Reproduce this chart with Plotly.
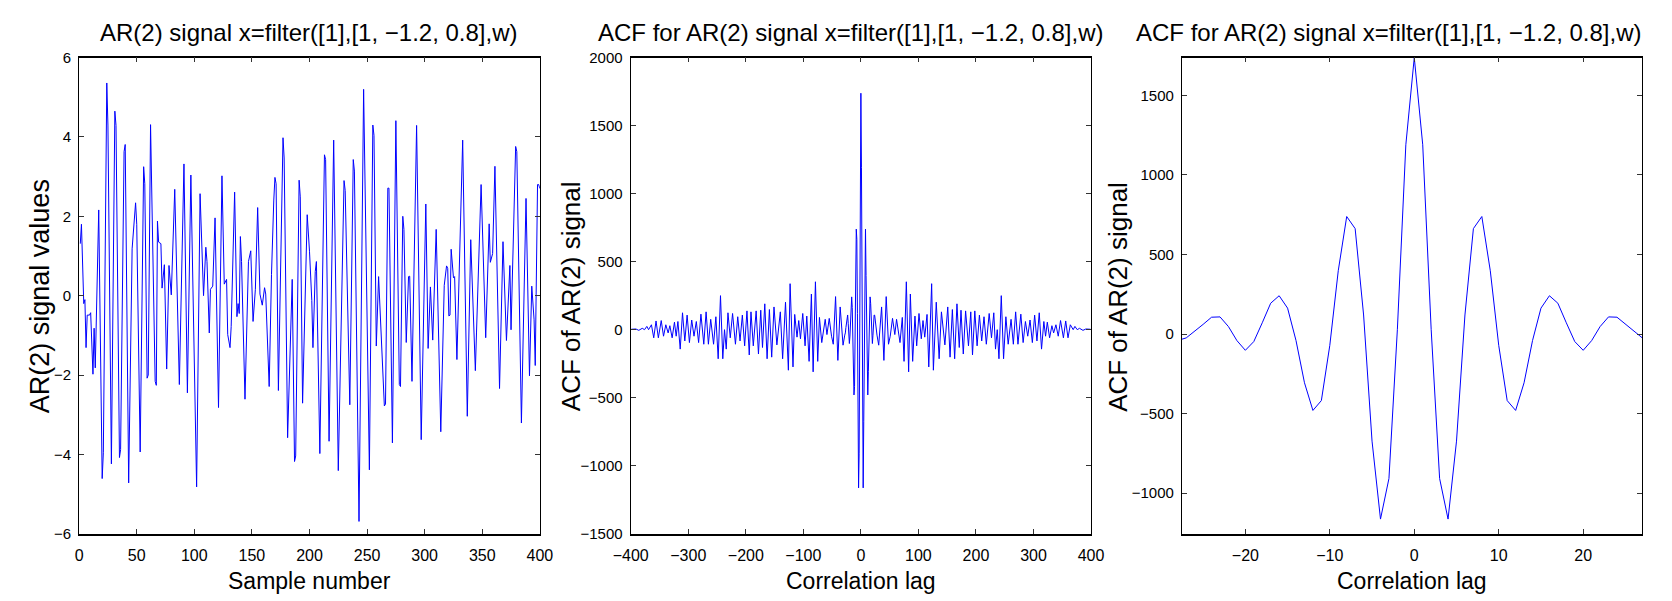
import plotly.graph_objects as go

# ---------------- data ----------------
# AR(2) signal: sample index and value at the resolved vertices
sample_n = [1, 2, 4, 5, 6, 7, 9, 10, 12, 13, 14, 17, 20, 21, 24, 25, 28, 31, 32, 35,
            36, 39, 40, 43, 46, 49, 50, 53, 56, 57, 59, 60, 62, 66, 67, 68, 69, 71, 72, 74,
            76, 78, 80, 83, 87, 91, 94, 97, 102, 105, 108, 110, 111, 113, 114, 116, 118, 121, 124, 126,
            128, 129, 131, 132, 135, 137, 138, 139, 140, 141, 144, 147, 149, 151, 153, 155, 157, 159, 161, 162,
            165, 167, 169, 170, 171, 173, 177, 178, 181, 185, 187, 188, 191, 192, 194, 198, 200, 202, 203, 205,
            206, 209, 213, 214, 217, 221, 225, 230, 231, 235, 238, 239, 243, 247, 252, 255, 256, 258, 260, 262,
            265, 266, 268, 269, 272, 275, 278, 279, 281, 282, 284, 286, 287, 289, 293, 297, 301, 303, 305, 307,
            310, 314, 317, 319, 320, 321, 322, 323, 325, 326, 328, 333, 337, 340, 344, 345, 349, 353, 356, 357,
            359, 361, 365, 368, 371, 374, 375, 379, 380, 384, 388, 391, 393, 395, 396, 398, 399, 400]
signal = [1.31, 1.80, -0.20, -0.10, -1.31, -0.49, -0.49, -0.43, -1.98, -0.82, -1.82, 2.16, -4.61, -3.96, 5.36, 4.30, -4.24, 4.65, 4.29, -4.08,
          -3.88, 3.63, 3.81, -4.72, 1.18, 2.34, 1.80, -3.94, 3.25, 2.82, -2.08, -2.00, 4.31, -2.16, -2.26, 1.88, 1.35, 1.31, 0.19, 0.78,
          -1.85, 0.76, 0.02, 2.68, -2.24, 3.32, -2.45, 3.04, -4.82, 2.57, 0.00, 1.22, 0.86, -0.94, 0.16, 0.24, 1.96, -2.82, 3.02, 0.29,
          0.41, -0.98, -1.31, -0.78, 2.61, -0.53, -0.20, -0.45, 1.49, 0.86, -2.61, 0.86, 1.13, -0.65, 0.16, 2.22, 0.04, -0.24, 0.20, 0.04,
          -2.29, 0.53, 2.41, 2.98, 2.82, -2.39, 3.98, 3.47, -3.58, 0.41, -4.18, -4.04, 2.91, 2.49, -2.71, 2.04, 1.12, -0.12, -1.31, 0.61,
          0.86, -3.98, 3.55, 3.43, -3.67, 3.92, -4.41, 2.90, 2.65, -2.75, 3.43, 3.14, -5.69, 5.20, -4.39, 4.30, 4.04, -1.27, 0.48, -0.94,
          -2.78, -2.73, 2.71, 2.71, -3.71, 4.41, -2.24, -2.29, 2.00, 1.67, -1.18, 0.48, 0.49, -2.16, 4.29, -3.63, 2.31, -1.33, 0.22, -1.12,
          1.67, -3.43, 0.26, 0.75, 0.69, -0.51, -0.49, 1.17, 0.45, 0.48, -1.61, 3.92, -3.04, 1.41, -1.89, -0.94, 2.80, -1.06, 1.81, 0.84,
          1.06, 3.26, -2.34, 1.36, -1.13, 0.76, -0.86, 3.76, 3.63, -3.21, 2.45, -2.02, 0.24, -0.61, -1.76, 2.80, 2.80, 2.70]

# ACF for non-negative lags (the ACF is symmetric about lag 0)
acf_lag_pos = [0, 1, 2, 3, 4, 5, 6, 7, 8, 9, 10, 11, 12, 13, 14, 15, 16, 17, 18, 19,
               20, 21, 22, 23, 24, 25, 26, 27, 28, 31, 36, 40, 44, 48, 51, 55, 59, 62, 68, 72,
               75, 79, 83, 86, 90, 94, 97, 101, 105, 108, 111, 115, 118, 123, 126, 131, 136, 140, 146, 151,
               155, 159, 163, 167, 171, 174, 178, 182, 187, 191, 194, 198, 202, 206, 210, 214, 218, 223, 227, 231,
               234, 237, 240, 244, 248, 252, 256, 261, 265, 269, 273, 278, 282, 286, 290, 294, 298, 302, 306, 310,
               314, 318, 321, 324, 328, 332, 335, 339, 343, 347, 352, 356, 360, 364, 369, 372, 376, 380, 386, 391, 399]
acf_pos = [1738, 1190, 30, -908, -1163, -673, 120, 663, 739, 398, -71, -418, -480, -306, -41, 163, 241, 194, 71, -47,
           -102, -41, 47, 108, 106, 61, 16, -24, -40, -114, 167, -226, 243, -107, -48, 83, -36, 76, -95, 90,
           -233, 352, -310, 262, -233, 100, -119, 119, -67, 67, -55, 112, -274, 338, -298, 202, -214, 131, -112, 167,
           -202, 148, -214, 190, -131, 143, -179, 138, -119, 131, -186, 138, -119, 107, -83, 95, -107, 119, -60, 124,
           -143, 0, -214, 250, -214, 95, -107, 76, -107, 131, -107, 114, -95, 60, -48, 71, -95, 107, -83, 124,
           -143, 60, -48, 55, -60, 29, -24, 36, -48, 67, -60, 64, -60, 36, 0, 24, 0, 10, -5, 5, 3]

title_left = "AR(2) signal x=filter([1],[1, \u22121.2, 0.8],w)"
title_acf = "ACF for AR(2) signal x=filter([1],[1, \u22121.2, 0.8],w)"
xlabel_left = "Sample number"
xlabel_acf = "Correlation lag"
ylabel_left = "AR(2) signal values"
ylabel_acf = "ACF of AR(2) signal"

# full two-sided ACF
acf_lag = [-l for l in reversed(acf_lag_pos[1:])] + acf_lag_pos
acf = list(reversed(acf_pos[1:])) + acf_pos

# ---------------- layout helpers ----------------
W, H = 1672, 601
FONT = "Liberation Sans, Arial, Helvetica, sans-serif"
BLUE = "#0000ff"


def fx(x):
    return x / W


def fy(y):
    return 1 - y / H


ydom = [fy(540), fy(50)]
doms = [[fx(62.3), fx(531.7)], [fx(624.3), fx(1093.3)], [fx(1186), fx(1655)]]

fig = go.Figure()
line = dict(color=BLUE, width=1)
fig.add_trace(go.Scatter(x=sample_n, y=signal, mode="lines", line=line, xaxis="x", yaxis="y"))
fig.add_trace(go.Scatter(x=acf_lag, y=acf, mode="lines", line=line, xaxis="x2", yaxis="y2"))
fig.add_trace(go.Scatter(x=acf_lag, y=acf, mode="lines", line=line, xaxis="x3", yaxis="y3"))


def xax(dom, rng, anchor, **kw):
    d = dict(domain=dom, range=rng, anchor=anchor, showgrid=False, zeroline=False,
             showline=True, linecolor="black", linewidth=1.6, mirror="ticks",
             ticks="inside", ticklen=5, tickwidth=1, tickcolor="#333333",
             tickfont=dict(family=FONT, size=16, color="black"), ticklabelstandoff=6)
    d.update(kw)
    return d


def yax(rng, anchor, **kw):
    d = dict(domain=ydom, range=rng, anchor=anchor, showgrid=False, zeroline=False,
             showline=True, linecolor="black", linewidth=1.2, mirror="ticks",
             ticks="inside", ticklen=5, tickwidth=1, tickcolor="#333333",
             tickfont=dict(family=FONT, size=15, color="black"), ticklabelstandoff=4)
    d.update(kw)
    return d


fig.update_layout(
    width=W, height=H, autosize=False,
    margin=dict(l=0, r=0, t=0, b=0),
    paper_bgcolor="white", plot_bgcolor="white",
    showlegend=False,
    xaxis=xax(doms[0], [0, 400], "y", tickmode="linear", tick0=0, dtick=50),
    yaxis=yax([-6, 6], "x", tickmode="linear", tick0=-6, dtick=2),
    xaxis2=xax(doms[1], [-400, 400], "y2", tickmode="linear", tick0=-400, dtick=100),
    yaxis2=yax([-1500, 2000], "x2", tickmode="linear", tick0=-1500, dtick=500),
    xaxis3=xax(doms[2], [-27.5, 27], "y3", tickvals=[-20, -10, 0, 10, 20]),
    yaxis3=yax([-1255, 1738], "x3", tickvals=[-1000, -500, 0, 500, 1000, 1500]),
)

ann = []


def text(x, y, s, size, angle=0):
    ann.append(dict(x=fx(x), y=fy(y), xref="paper", yref="paper", text=s, showarrow=False,
                    xanchor="center", yanchor="middle", textangle=angle,
                    font=dict(family=FONT, size=size, color="black")))


text(297, 24, title_left, 24)
text(849, 24, title_acf, 24)
text(1397, 24, title_acf, 24)
text(297, 589, xlabel_left, 23)
text(858.8, 589, xlabel_acf, 23)
text(1420.5, 589, xlabel_acf, 23)
text(22, 296, ylabel_left, 27, -90)
text(563, 296, ylabel_acf, 26, -90)
text(1120, 296, ylabel_acf, 26, -90)
fig.update_layout(annotations=ann)

fig.write_html("out.html")
